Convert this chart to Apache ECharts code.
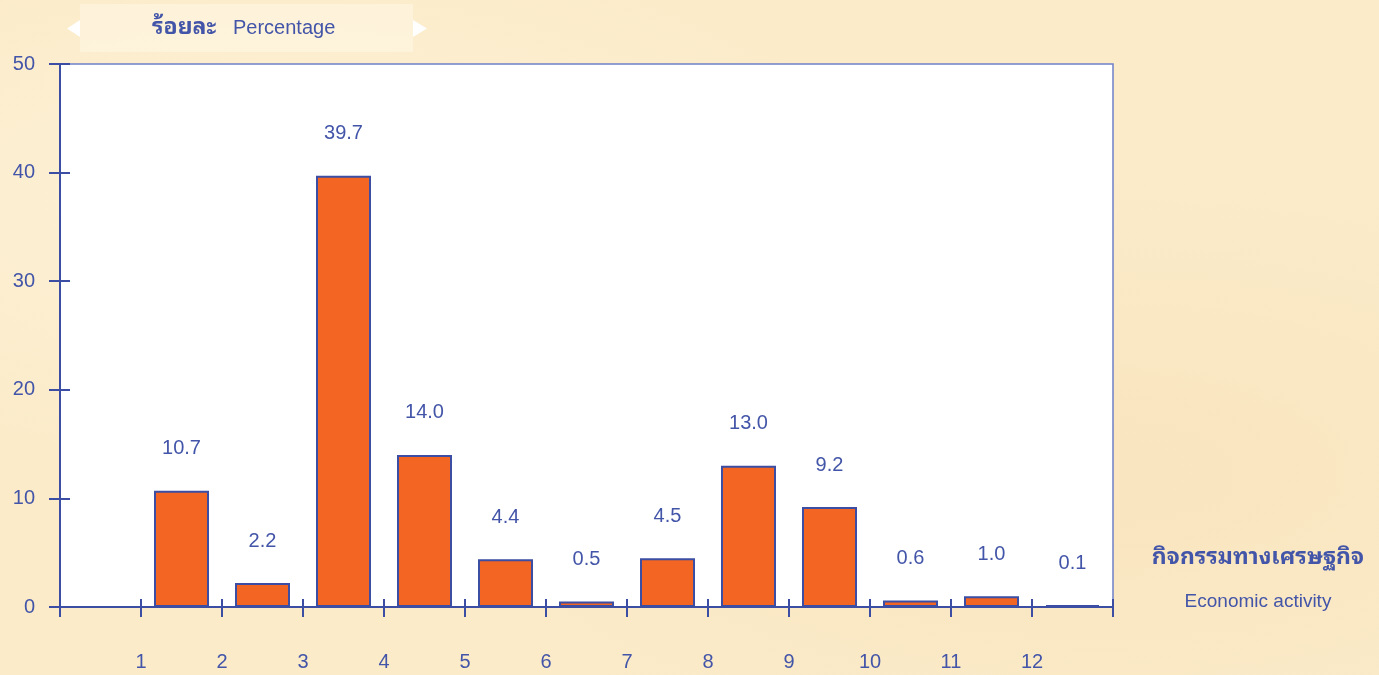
<!DOCTYPE html>
<html>
<head>
<meta charset="utf-8">
<script src="https://cdn.jsdelivr.net/npm/echarts@6/dist/echarts.min.js"></script>
<style>
html,body{margin:0;padding:0;}
body{background:#fbebc9;background-image:radial-gradient(ellipse at 20% 30%, #fdf1d6 0%, rgba(253,241,214,0) 40%),radial-gradient(ellipse at 80% 70%, #f9e5bf 0%, rgba(249,229,191,0) 45%);}
#c{width:1379px;height:675px;}
</style>
</head>
<body>
<div id="c"></div>
<script>
const categories = ['', '1', '2', '3', '4', '5', '6', '7', '8', '9', '10', '11', '12'];
const values = [null, 10.7, 2.2, 39.7, 14.0, 4.4, 0.5, 4.5, 13.0, 9.2, 0.6, 1.0, 0.1];
const yTicks = { min: 0, max: 50, interval: 10 };
const titleThai = 'ร้อยละ';
const titleEng = 'Percentage';
const xNameThai = 'กิจกรรมทางเศรษฐกิจ';
const xNameEng = 'Economic activity';

const blue = '#3b4ea3';
const textBlue = '#4355a8';
const font = 'Liberation Sans, Arial, sans-serif';
const thaiFont = '"Noto Sans Thai Looped", Tahoma, "Noto Sans Thai", "Noto Sans", sans-serif';

const chart = echarts.init(document.getElementById('c'), null, {renderer: 'canvas'});
chart.setOption({
  backgroundColor: 'transparent',
  animation: false,
  grid: { left: 60, right: 266, top: 64, bottom: 68, show: true, backgroundColor: '#ffffff', borderColor: '#6f80c8', borderWidth: 1.5 },
  xAxis: [
    { type: 'category', data: categories, boundaryGap: true,
      axisLine: { show: true, lineStyle: { color: blue, width: 2 } },
      axisTick: { show: true, length: 10, lineStyle: { color: blue, width: 2 } },
      axisLabel: { show: false } },
    { type: 'value', min: 0, max: 13, interval: 1, position: 'bottom',
      axisLine: { show: false }, splitLine: { show: false },
      axisTick: { show: true, inside: true, length: 8, lineStyle: { color: blue, width: 2 } },
      axisLabel: { show: true, margin: 45, color: textBlue, fontSize: 20, fontFamily: font,
        formatter: v => (v >= 1 && v <= 12) ? String(v) : '' } }
  ],
  yAxis: [
    { type: 'value', min: yTicks.min, max: yTicks.max, interval: yTicks.interval,
      axisLine: { show: true, lineStyle: { color: blue, width: 2 } },
      axisTick: { show: true, length: 11, lineStyle: { color: blue, width: 2 } },
      splitLine: { show: false },
      axisLabel: { color: textBlue, fontSize: 20, fontFamily: font, margin: 25 } },
    { type: 'value', min: yTicks.min, max: yTicks.max, interval: yTicks.interval, position: 'left',
      axisLine: { show: false }, splitLine: { show: false },
      axisTick: { show: true, inside: true, length: 10, lineStyle: { color: blue, width: 2 } },
      axisLabel: { show: false } }
  ],
  series: [{
    type: 'bar', xAxisIndex: 0, yAxisIndex: 0, data: values, barWidth: 55, barMinHeight: 2,
    itemStyle: { color: '#f26522', borderColor: blue, borderWidth: 2 },
    label: { show: true, position: 'top', distance: 32, color: textBlue, fontSize: 20, fontFamily: font,
      formatter: p => p.value == null ? '' : Number(p.value).toFixed(1) }
  }],
  graphic: [
    { type: 'rect', shape: { x: 80, y: 4, width: 333, height: 48 }, style: { fill: 'rgba(255,248,230,0.55)' }, z: 0 },
    { type: 'polygon', shape: { points: [[80, 20], [80, 37], [67, 28.5]] }, style: { fill: '#ffffff' } },
    { type: 'polygon', shape: { points: [[413, 20], [413, 37], [427, 28.5]] }, style: { fill: '#ffffff' } },
    { type: 'text', x: 152, y: 28, style: { text: titleThai, fill: textBlue, font: 'bold 23px ' + thaiFont, textVerticalAlign: 'middle' } },
    { type: 'text', x: 233, y: 28, style: { text: titleEng, fill: textBlue, font: '20px ' + font, textVerticalAlign: 'middle' } },
    { type: 'text', x: 1258, y: 558, style: { text: xNameThai, fill: textBlue, font: 'bold 23px ' + thaiFont, textAlign: 'center', textVerticalAlign: 'middle' } },
    { type: 'text', x: 1258, y: 602, style: { text: xNameEng, fill: textBlue, font: '19px ' + font, textAlign: 'center', textVerticalAlign: 'middle' } }
  ]
});
</script>
</body>
</html>
